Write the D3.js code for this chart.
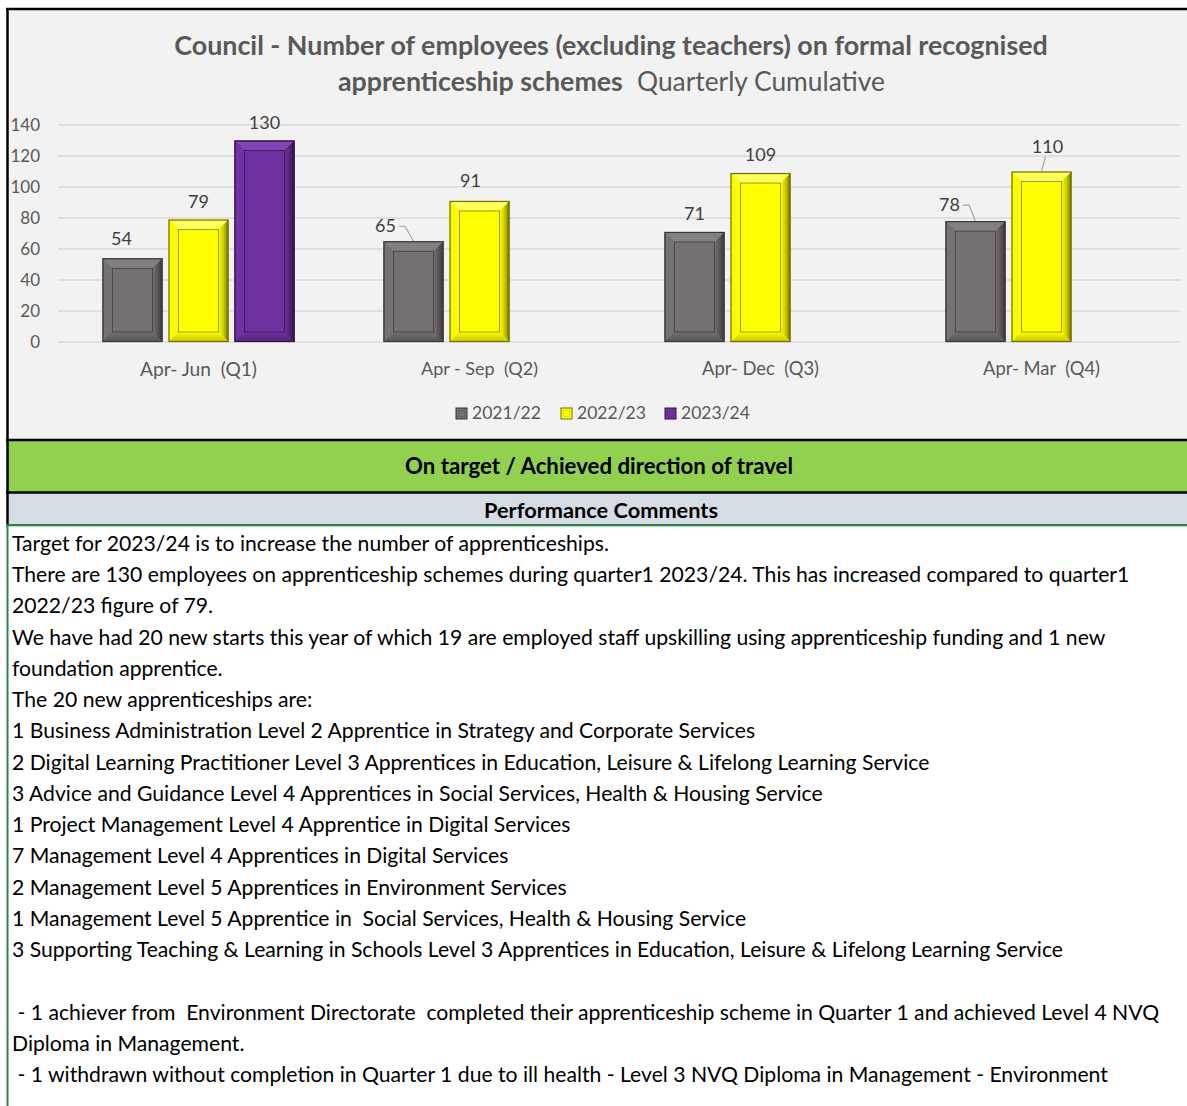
<!DOCTYPE html>
<html><head><meta charset="utf-8">
<script src="https://cdn.jsdelivr.net/npm/d3@7"></script>
<style>
body{margin:0;background:#fff}
svg{display:block}
text{font-family:Lato,'Noto Sans',sans-serif}
</style>
</head><body>
<svg id="c" width="1187" height="1106"></svg>
<script>
// ---------- DATA ----------
const categories = ["Apr- Jun  (Q1)", "Apr - Sep  (Q2)", "Apr- Dec  (Q3)", "Apr- Mar  (Q4)"];
const seriesNames = ["2021/22", "2022/23", "2023/24"];
const values2021 = [54, 65, 71, 78];
const values2022 = [79, 91, 109, 110];
const values2023 = [130, null, null, null];
const yTicks = [0, 20, 40, 60, 80, 100, 120, 140];
const titleLine1 = "Council - Number of employees (excluding teachers) on formal recognised";
const titleLine2Bold = "apprenticeship schemes";
const titleLine2Normal = "Quarterly Cumulative";
const statusText = "On target / Achieved direction of travel";
const commentsHeader = "Performance Comments";
const comments = [
  "Target for 2023/24 is to increase the number of apprenticeships.",
  "There are 130 employees on apprenticeship schemes during quarter1 2023/24. This has increased compared to quarter1",
  "2022/23 figure of 79.",
  "We have had 20 new starts this year of which 19 are employed staff upskilling using apprenticeship funding and 1 new",
  "foundation apprentice.",
  "The 20 new apprenticeships are:",
  "1 Business Administration Level 2 Apprentice in Strategy and Corporate Services",
  "2 Digital Learning Practitioner Level 3 Apprentices in Education, Leisure & Lifelong Learning Service",
  "3 Advice and Guidance Level 4 Apprentices in Social Services, Health & Housing Service",
  "1 Project Management Level 4 Apprentice in Digital Services",
  "7 Management Level 4 Apprentices in Digital Services",
  "2 Management Level 5 Apprentices in Environment Services",
  "1 Management Level 5 Apprentice in  Social Services, Health & Housing Service",
  "3 Supporting Teaching & Learning in Schools Level 3 Apprentices in Education, Leisure & Lifelong Learning Service",
  "",
  " - 1 achiever from  Environment Directorate  completed their apprenticeship scheme in Quarter 1 and achieved Level 4 NVQ",
  "Diploma in Management.",
  " - 1 withdrawn without completion in Quarter 1 due to ill health - Level 3 NVQ Diploma in Management - Environment"
];

// ---------- STYLE ----------
const palette = {
  "2021/22": {base:"#767171", top:"#858080", left:"#777272", right:"#5a5656", bottom:"#625e5e", stroke:"#3a3737"},
  "2022/23": {base:"#ffff00", top:"#ffff5a", left:"#fbfb00", right:"#cccc00", bottom:"#dada00", stroke:"#70700a"},
  "2023/24": {base:"#7030a0", top:"#8244b4", left:"#7232a4", right:"#55247a", bottom:"#5e2888", stroke:"#2c1444"}
};
// manual label nudges (as placed in the original chart) [series][category] -> {dx, dy, leader}
const labelNudges = {
  "2021/22": [{dx:-11,dy:-1},{dx:-28,dy:3,leader:true},{dx:0,dy:0},{dx:-26,dy:2,leader:true}],
  "2022/23": [{dx:0,dy:0},{dx:-9,dy:-2},{dx:0,dy:0},{dx:6,dy:-7,leader:true}],
  "2023/24": [{dx:0,dy:0},{dx:0,dy:0},{dx:0,dy:0},{dx:0,dy:0}]
};

const svg = d3.select("#c");
const W = 1187, H = 1106;

function fitText(sel, target){
  const len = sel.node().getComputedTextLength();
  const fs = parseFloat(sel.attr("font-size"));
  sel.attr("font-size", (fs*target/len).toFixed(2));
}

// gradients for bevel edges
const defs = svg.append("defs");
Object.entries(palette).forEach(([k,p],i)=>{
  const gr = defs.append("linearGradient").attr("id","rg"+i).attr("x1","0").attr("x2","1").attr("y1","0").attr("y2","0");
  gr.append("stop").attr("offset","0").attr("stop-color",p.base);
  gr.append("stop").attr("offset","0.5").attr("stop-color",p.right);
  gr.append("stop").attr("offset","1").attr("stop-color",p.stroke);
  const gb = defs.append("linearGradient").attr("id","bg"+i).attr("x1","0").attr("x2","0").attr("y1","0").attr("y2","1");
  gb.append("stop").attr("offset","0").attr("stop-color",p.base);
  gb.append("stop").attr("offset","0.6").attr("stop-color",p.bottom);
  gb.append("stop").attr("offset","1").attr("stop-color",p.right);
  p.rg = "url(#rg"+i+")"; p.bg = "url(#bg"+i+")";
});

// ---------- BACKGROUND PANELS ----------
svg.append("rect").attr("x",0).attr("y",0).attr("width",W).attr("height",H).attr("fill","#fff");
svg.append("rect").attr("x",8).attr("y",9).attr("width",W-8).attr("height",431).attr("fill","#f2f2f2");
svg.append("rect").attr("x",8).attr("y",440).attr("width",W-8).attr("height",52).attr("fill","#92d050");
svg.append("rect").attr("x",8).attr("y",493).attr("width",W-8).attr("height",31).attr("fill","#d6dce4");
// borders
svg.append("line").attr("x1",6).attr("x2",W).attr("y1",9).attr("y2",9).attr("stroke","#000").attr("stroke-width",2.5);
svg.append("line").attr("x1",6).attr("x2",W).attr("y1",440).attr("y2",440).attr("stroke","#000").attr("stroke-width",2.5);
svg.append("line").attr("x1",6).attr("x2",W).attr("y1",492.5).attr("y2",492.5).attr("stroke","#000").attr("stroke-width",2.5);
svg.append("line").attr("x1",7.5).attr("x2",7.5).attr("y1",8).attr("y2",524).attr("stroke","#000").attr("stroke-width",2.5);
svg.append("line").attr("x1",6).attr("x2",W).attr("y1",525).attr("y2",525).attr("stroke","#2f7f50").attr("stroke-width",2);
svg.append("line").attr("x1",6).attr("x2",W).attr("y1",526.5).attr("y2",526.5).attr("stroke","#b9dcc6").attr("stroke-width",1);
svg.append("line").attr("x1",7.5).attr("x2",7.5).attr("y1",524).attr("y2",H).attr("stroke","#2f7f50").attr("stroke-width",2);

// ---------- TITLE ----------
const t1 = svg.append("text").attr("x",611).attr("y",55).attr("text-anchor","middle")
  .attr("font-size",24).attr("font-weight","bold").attr("fill","#595959").text(titleLine1);
fitText(t1, 874);
const t2b = svg.append("text").attr("x",338).attr("y",91)
  .attr("font-size",24).attr("font-weight","bold").attr("fill","#595959").text(titleLine2Bold);
fitText(t2b, 285);
const t2n = svg.append("text").attr("x",637).attr("y",91)
  .attr("font-size",24).attr("fill","#595959").text(titleLine2Normal);
fitText(t2n, 248);

// ---------- SCALES ----------
const x0 = d3.scaleBand().domain(categories).range([58, 1182]).padding(0);
const x1 = d3.scaleBand().domain(seriesNames).range([44.5, x0.bandwidth()-44.5]).paddingInner(6/66);
const y = d3.scaleLinear().domain([0, d3.max(yTicks)]).range([342, 125]);

// gridlines
svg.append("g").selectAll("line").data(yTicks).join("line")
  .attr("x1",58).attr("x2",1180).attr("y1",d=>y(d)).attr("y2",d=>y(d))
  .attr("stroke","#d9d9d9").attr("stroke-width",1.5);

// y axis
const yAxis = d3.axisLeft(y).tickValues(yTicks).tickSize(0).tickPadding(0);
const yg = svg.append("g").attr("transform","translate(40,0)").call(yAxis);
yg.select(".domain").remove();
yg.selectAll("text").attr("font-size",17).attr("fill","#595959")
  .attr("font-family","Lato,'Noto Sans',sans-serif").attr("dy","0.35em");

// x axis labels
const xAxis = d3.axisBottom(x0).tickSize(0).tickPadding(0);
const xg = svg.append("g").attr("transform","translate(0,369)").call(xAxis);
xg.select(".domain").remove();
xg.selectAll("text").attr("font-size",17).attr("fill","#595959")
  .attr("font-family","Lato,'Noto Sans',sans-serif").attr("dy","0.35em")
  .style("white-space","pre").attr("xml:space","preserve");
xg.selectAll("text").each(function(){ fitText(d3.select(this), 117); });

// ---------- BARS ----------
const seriesData = [values2021, values2022, values2023];
const bars = [];
seriesNames.forEach((s,si)=>{
  categories.forEach((c,ci)=>{
    const v = seriesData[si][ci];
    if(v==null) return;
    bars.push({series:s, cat:c, ci, value:v});
  });
});

const barG = svg.append("g");
const bev = 10;
barG.selectAll("g.bar").data(bars).join("g").attr("class","bar").each(function(d){
  const g = d3.select(this);
  const bx = x0(d.cat) + x1(d.series);
  const bw = x1.bandwidth();
  const by = y(d.value);
  const bh = y(0) - by;
  const p = palette[d.series];
  const b = bev;
  g.append("rect").attr("x",bx).attr("y",by).attr("width",bw).attr("height",bh).attr("fill",p.base);
  const poly = (pts,fill)=>g.append("polygon").attr("points",pts.map(q=>q.join(",")).join(" ")).attr("fill",fill);
  poly([[bx,by],[bx+bw,by],[bx+bw-b,by+b],[bx+b,by+b]], p.top);
  poly([[bx,by],[bx+b,by+b],[bx+b,by+bh-b],[bx,by+bh]], p.left);
  const rg = g.append("g");
  rg.append("polygon").attr("points",[[bx+bw,by],[bx+bw,by+bh],[bx+bw-b,by+bh-b],[bx+bw-b,by+b]].map(q=>q.join(",")).join(" "))
    .attr("fill",p.rg);
  rg.append("polygon").attr("points",[[bx,by+bh],[bx+bw,by+bh],[bx+bw-b,by+bh-b],[bx+b,by+bh-b]].map(q=>q.join(",")).join(" "))
    .attr("fill",p.bg);
  // top highlight line
  g.append("line").attr("x1",bx+3).attr("x2",bx+bw-3).attr("y1",by+2.5).attr("y2",by+2.5)
    .attr("stroke",p.top).attr("stroke-width",2).attr("opacity",0.9);
  g.append("rect").attr("x",bx+b).attr("y",by+b).attr("width",bw-2*b).attr("height",bh-2*b)
    .attr("fill",p.base).attr("stroke",p.stroke).attr("stroke-width",1).attr("stroke-opacity",0.7);
  g.append("rect").attr("x",bx+0.5).attr("y",by+0.5).attr("width",bw-1).attr("height",bh-1)
    .attr("fill","none").attr("stroke",p.stroke).attr("stroke-width",1.2);

  // value label
  const nud = labelNudges[d.series][d.ci];
  const lx = bx + bw/2 + nud.dx;
  const ly = by - 12 + nud.dy;
  const lt = g.append("text").attr("x",lx).attr("y",ly).attr("text-anchor","middle")
    .attr("font-size",18).attr("fill","#404040").text(d.value);
  if(nud.leader){
    const w = lt.node().getComputedTextLength();
    let pts;
    if(nud.dx < 0){
      pts = [[lx+w/2+3, ly-6],[lx+w/2+9, ly-6],[bx+bw/2, by]];
    } else {
      pts = [[lx-2, ly+4],[bx+bw/2, by]];
    }
    g.append("polyline").attr("points",pts.map(q=>q.join(",")).join(" "))
      .attr("fill","none").attr("stroke","#a6a6a6").attr("stroke-width",1.2);
  }
});

// ---------- LEGEND ----------
const legendX = [456, 561, 665];
const leg = svg.append("g");
seriesNames.forEach((s,i)=>{
  const p = palette[s];
  leg.append("rect").attr("x",legendX[i]).attr("y",408).attr("width",11).attr("height",11)
    .attr("fill",p.base).attr("stroke",p.stroke).attr("stroke-width",1);
  leg.append("rect").attr("x",legendX[i]+2.5).attr("y",410.5).attr("width",6).attr("height",6)
    .attr("fill",p.base).attr("stroke",p.right).attr("stroke-width",0.6);
  const lt = leg.append("text").attr("x",legendX[i]+16).attr("y",419)
    .attr("font-size",17).attr("fill","#595959").text(s);
  fitText(lt, 69);
});

// ---------- STATUS BANDS ----------
const st = svg.append("text").attr("x",599).attr("y",474).attr("text-anchor","middle")
  .attr("font-size",20).attr("font-weight","bold").attr("fill","#000").text(statusText);
fitText(st, 388);
const ph = svg.append("text").attr("x",601).attr("y",518).attr("text-anchor","middle")
  .attr("font-size",18).attr("font-weight","bold").attr("fill","#000").text(commentsHeader);
fitText(ph, 234);

// ---------- COMMENTS ----------
const probe = svg.append("text").attr("font-size",20).text(comments[1]);
const probeLen = probe.node().getComputedTextLength();
probe.remove();
const commentSize = 20*1118/probeLen;
svg.append("g").selectAll("text").data(comments).join("text")
  .attr("x",12).attr("y",(d,i)=>551+i*31.24)
  .attr("font-size",commentSize.toFixed(2)).attr("fill","#000")
  .attr("xml:space","preserve").style("white-space","pre")
  .text(d=>d);
</script>
</body></html>
